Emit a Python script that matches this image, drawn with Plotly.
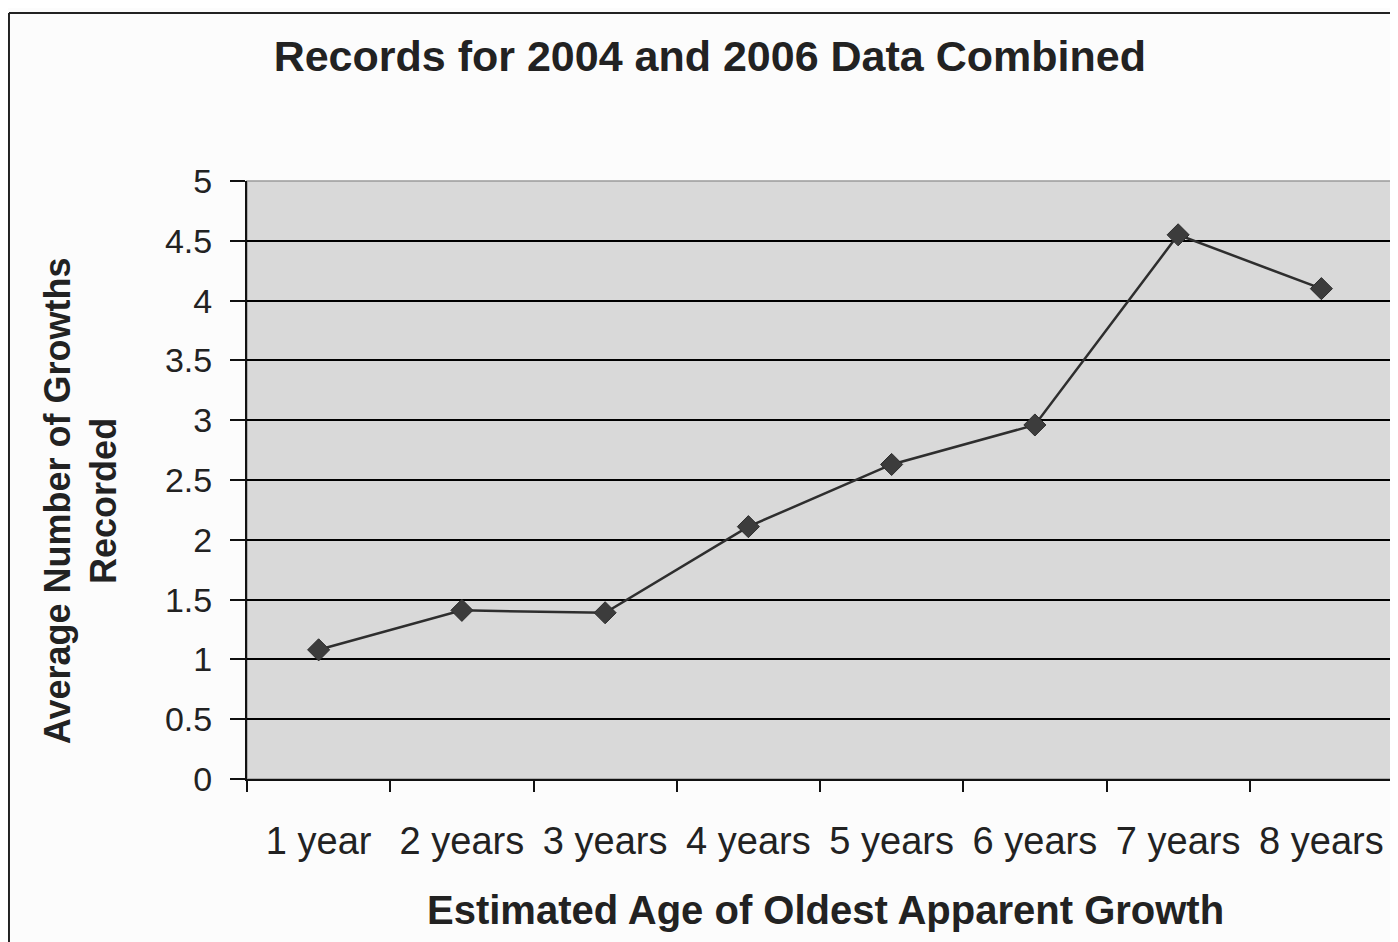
import plotly.graph_objects as go

categories = ["1 year", "2 years", "3 years", "4 years", "5 years", "6 years", "7 years", "8 years"]
avg_growths = [1.08, 1.41, 1.39, 2.11, 2.63, 2.96, 4.55, 4.10]

title_text = "Records for 2004 and 2006 Data Combined"
x_title = "Estimated Age of Oldest Apparent Growth"
y_title = "Average Number of Growths<br>Recorded"

FONT = "Arial, Liberation Sans, Helvetica, sans-serif"

fig = go.Figure()
fig.add_trace(go.Scatter(
    x=categories, y=avg_growths, mode="lines+markers",
    line=dict(color="#2e2e2e", width=2.5),
    marker=dict(symbol="diamond", size=17, color="#3c3c3c",
                line=dict(color="#2e2e2e", width=1)),
    showlegend=False, hoverinfo="x+y",
))

fig.update_layout(
    width=1398, height=942,
    margin=dict(l=239, r=13, t=173, b=171),
    paper_bgcolor="#fcfcfc",
    plot_bgcolor="#d9d9d9",
    font=dict(family=FONT, color="#1a1a1a"),
    title=dict(text="<b>" + title_text + "</b>", x=0.502, xanchor="center",
               y=0.949, yanchor="middle", font=dict(size=43, family=FONT, color="#222")),
    showlegend=False,
)

fig.update_xaxes(
    type="category", range=[-0.5, 7.5],
    tickson="boundaries", ticks="outside", ticklen=11, tickwidth=2, tickcolor="#111",
    showline=True, linecolor="#111", linewidth=2,
    showgrid=False, zeroline=False,
    tickfont=dict(size=38, family=FONT, color="#222"),
    ticklabelstandoff=27,
)
fig.update_yaxes(
    range=[0, 5], dtick=0.5, tick0=0,
    ticks="outside", ticklen=15, tickwidth=2, tickcolor="#111",
    showline=True, linecolor="#111", linewidth=2,
    showgrid=True, gridcolor="#000", gridwidth=2,
    zeroline=False,
    tickfont=dict(size=34, family=FONT, color="#222"),
    ticklabelstandoff=11,
)

# axis titles
fig.add_annotation(text="<b>" + x_title + "</b>", xref="paper", yref="paper",
                   x=0.505, y=-0.2187, xanchor="center", yanchor="middle",
                   showarrow=False, font=dict(size=40, family=FONT, color="#222"))
fig.add_annotation(text="<b>" + y_title + "</b>", xref="paper", yref="paper",
                   x=-0.1449, y=0.466, xanchor="center", yanchor="middle",
                   textangle=-90, showarrow=False,
                   font=dict(size=36, family=FONT, color="#222"))

# plot area outline (top/right gray)
fig.add_shape(type="rect", xref="paper", yref="paper", x0=0, y0=0, x1=1, y1=1,
              line=dict(color="#9a9a9a", width=1.5), layer="below")
# outer chart border (left and top visible)
fig.add_shape(type="line", xref="paper", yref="paper", x0=-0.2077, y0=-0.4, x1=-0.2077, y1=1.281,
              line=dict(color="#222", width=2))
fig.add_shape(type="line", xref="paper", yref="paper", x0=-0.2077, y0=1.281, x1=1.05, y1=1.281,
              line=dict(color="#222", width=2))

fig.write_html("out.html")
